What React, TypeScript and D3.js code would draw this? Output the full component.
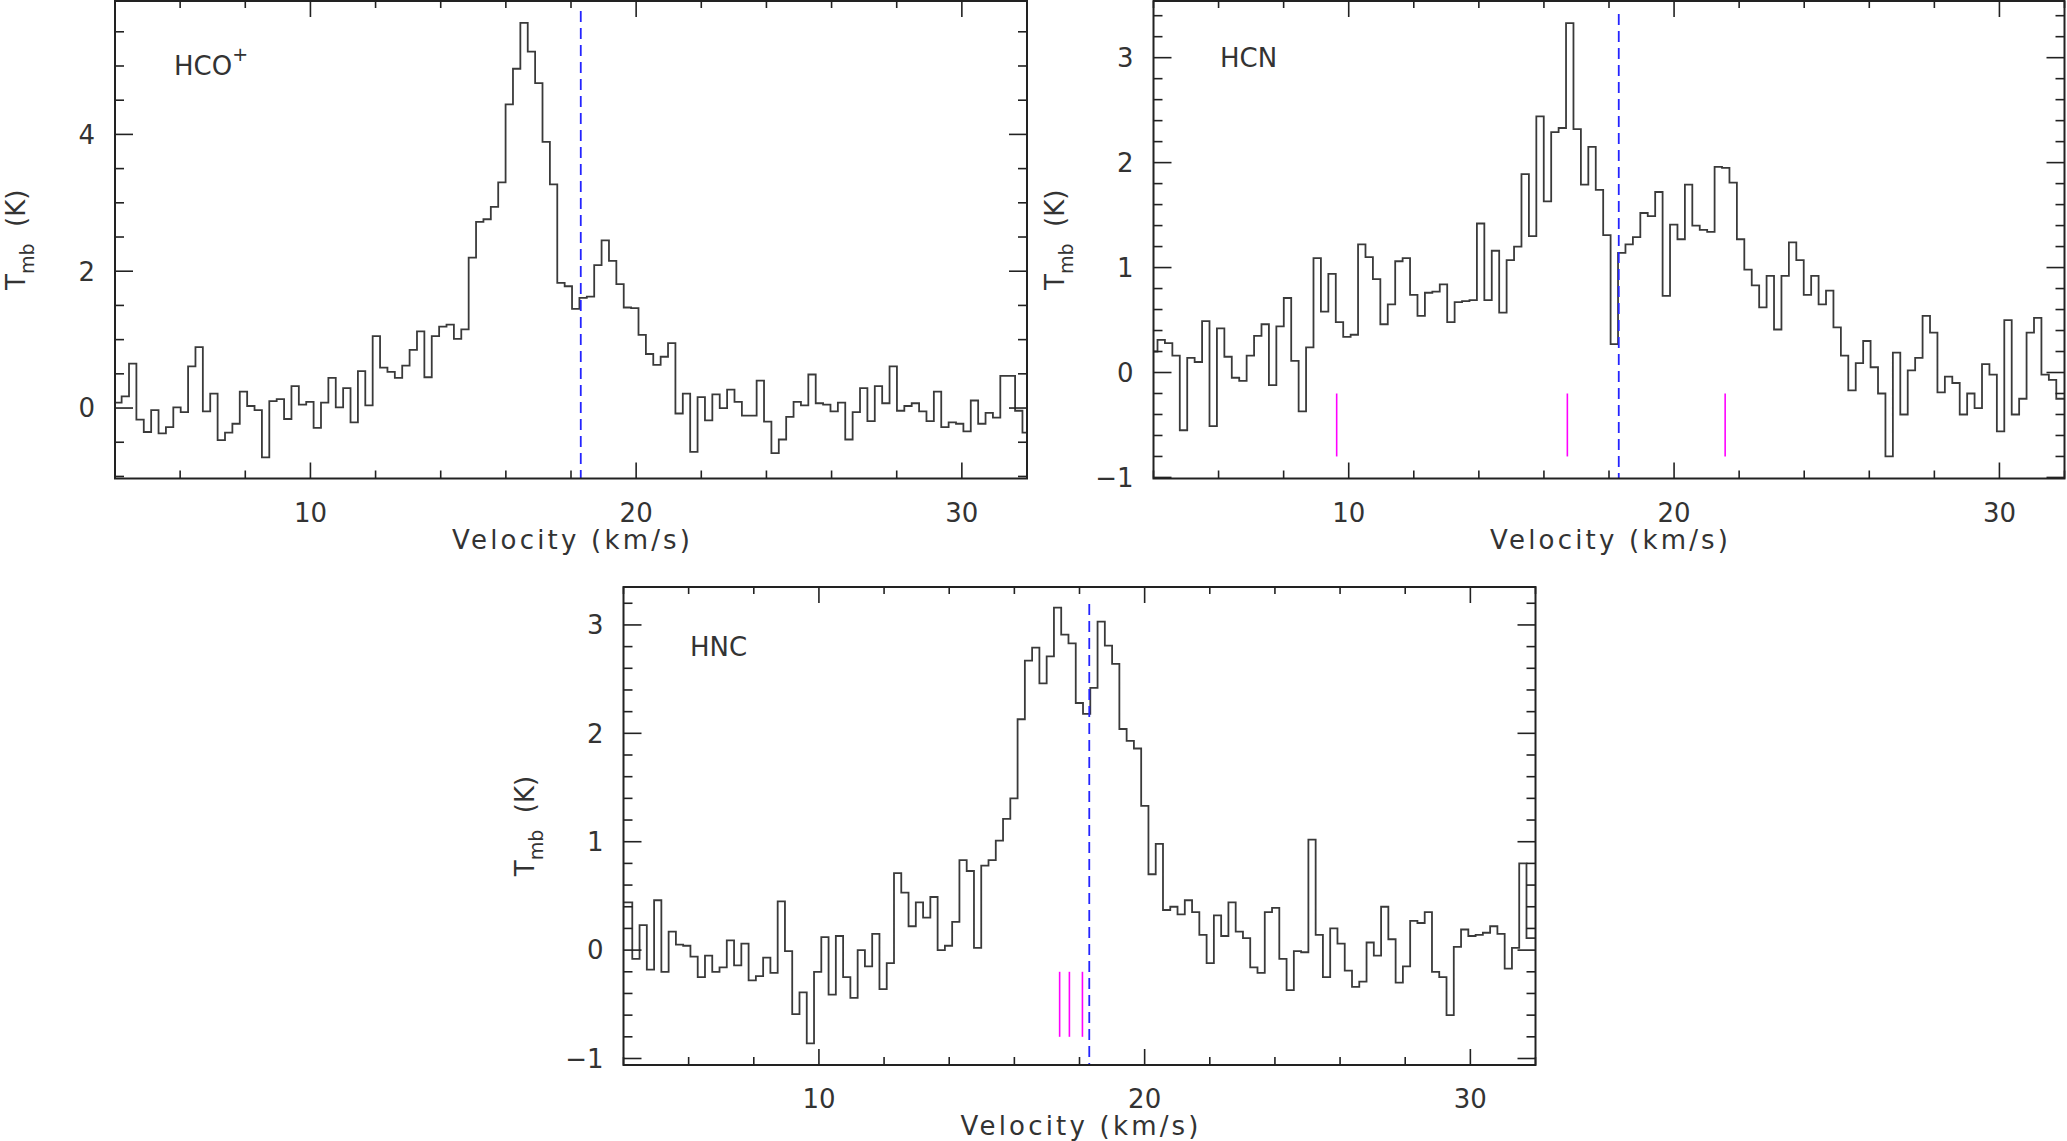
import React, { useEffect, useRef } from 'react';
import * as d3 from 'd3';

const W = 2067;
const H = 1141;

// velocity axis (km/s), same for the three spectra
const V_RANGE = [4, 32];
const V_LSR = 18.3;

// HCO+ main-beam temperature per channel (K)
const HCOP_TMB = [
  0.08, 0.17, 0.65, -0.17, -0.35, -0.03, -0.37, -0.28, 0.01, -0.06,
  0.61, 0.89, -0.05, 0.21, -0.47, -0.36, -0.23, 0.24, 0.03, -0.03,
  -0.72, 0.10, 0.13, -0.16, 0.32, 0.05, 0.09, -0.29, 0.08, 0.44,
  0.01, 0.29, -0.21, 0.54, 0.04, 1.05, 0.59, 0.53, 0.44, 0.62,
  0.85, 1.12, 0.45, 1.05, 1.19, 1.22, 1.01, 1.15, 2.20, 2.72,
  2.76, 2.94, 3.30, 4.44, 4.96, 5.63, 5.21, 4.75, 3.89, 3.27,
  1.83, 1.78, 1.45, 1.61, 1.63, 2.09, 2.45, 2.15, 1.81, 1.47,
  1.46, 1.07, 0.79, 0.63, 0.75, 0.95, -0.08, 0.21, -0.64, 0.16,
  -0.18, 0.20, 0.00, 0.27, 0.09, -0.11, -0.11, 0.40, -0.20, -0.66,
  -0.46, -0.13, 0.09, 0.04, 0.49, 0.07, 0.05, -0.05, 0.08, -0.46,
  -0.06, 0.29, -0.19, 0.32, 0.07, 0.61, -0.04, 0.03, 0.07, -0.05,
  -0.19, 0.24, -0.28, -0.21, -0.23, -0.34, 0.11, -0.23, -0.07, -0.14,
  0.47, 0.47, -0.04, -0.36
];
const HCOP_V0 = 4.09;   // centre of first channel
const HCOP_DV = 0.2267; // channel width

// HCN
const HCN_TMB = [
  0.20, 0.31, 0.28, 0.16, -0.55, 0.14, 0.10, 0.49, -0.51, 0.42,
  0.15, -0.05, -0.08, 0.16, 0.35, 0.46, -0.12, 0.44, 0.71, 0.11,
  -0.37, 0.24, 1.09, 0.58, 0.94, 0.48, 0.34, 0.36, 1.22, 1.10,
  0.89, 0.46, 0.65, 1.06, 1.09, 0.74, 0.54, 0.76, 0.77, 0.84,
  0.48, 0.67, 0.68, 0.69, 1.42, 0.69, 1.16, 0.57, 1.07, 1.20,
  1.89, 1.30, 2.44, 1.63, 2.29, 2.33, 3.33, 2.32, 1.79, 2.15,
  1.74, 1.31, 0.27, 1.14, 1.22, 1.29, 1.52, 1.49, 1.72, 0.73,
  1.41, 1.27, 1.79, 1.40, 1.36, 1.34, 1.96, 1.95, 1.81, 1.27,
  0.98, 0.83, 0.62, 0.92, 0.41, 0.92, 1.24, 1.07, 0.74, 0.92,
  0.65, 0.78, 0.43, 0.16, -0.17, 0.09, 0.30, 0.05, -0.20, -0.80,
  0.19, -0.40, 0.02, 0.14, 0.54, 0.38, -0.19, -0.04, -0.10, -0.40,
  -0.20, -0.34, 0.08, -0.02, -0.56, 0.50, -0.40, -0.25, 0.38, 0.52,
  -0.02, -0.07, -0.25
];
const HCN_V0 = 4.009;
const HCN_DV = 0.2283;
const HCN_HFS = [9.63, 16.72, 21.57];

// HNC
const HNC_TMB = [
  0.44, -0.08, 0.23, -0.18, 0.46, -0.20, 0.17, 0.05, 0.04, -0.06,
  -0.25, -0.05, -0.20, -0.16, 0.09, -0.14, 0.06, -0.28, -0.24, -0.07,
  -0.21, 0.45, -0.01, -0.59, -0.39, -0.86, -0.20, 0.12, -0.41, 0.13,
  -0.25, -0.44, 0.00, -0.15, 0.15, -0.36, -0.12, 0.71, 0.53, 0.22,
  0.44, 0.30, 0.49, 0.00, 0.04, 0.26, 0.83, 0.73, 0.02, 0.78,
  0.83, 1.01, 1.21, 1.40, 2.13, 2.67, 2.79, 2.46, 2.71, 3.16,
  2.91, 2.83, 2.28, 2.18, 2.42, 3.03, 2.81, 2.64, 2.04, 1.93,
  1.86, 1.33, 0.70, 0.98, 0.37, 0.40, 0.33, 0.46, 0.35, 0.14,
  -0.12, 0.32, 0.13, 0.44, 0.17, 0.11, -0.16, -0.21, 0.35, 0.39,
  -0.08, -0.37, -0.01, -0.02, 1.02, 0.14, -0.25, 0.20, 0.06, -0.19,
  -0.34, -0.29, 0.07, -0.05, 0.40, 0.10, -0.30, -0.15, 0.27, 0.25,
  0.35, -0.20, -0.25, -0.60, 0.03, 0.19, 0.13, 0.14, 0.16, 0.22,
  0.15, -0.17, 0.02, 0.80, 0.11
];
const HNC_V0 = 4.158;
const HNC_DV = 0.2232;
const HNC_HFS = [17.39, 17.69, 18.09];

const HFS_MARK = [-0.2, -0.8];

const PANELS = [
  { id: 'hcop', name: 'HCO', sup: '+', tmb: HCOP_TMB, v0: HCOP_V0, dv: HCOP_DV, hfs: [],
    yDomain: [-1.03, 5.95], yMajor: 2, yMinor: 0.5,
    left: 115, top: 1, right: 1027, bottom: 478.5, nameX: 174, nameY: 75, dashTop: 10 },
  { id: 'hcn', name: 'HCN', sup: '', tmb: HCN_TMB, v0: HCN_V0, dv: HCN_DV, hfs: HCN_HFS,
    yDomain: [-1.01, 3.54], yMajor: 1, yMinor: 0.2,
    left: 1153.5, top: 1, right: 2064.5, bottom: 478.5, nameX: 1220, nameY: 67, dashTop: 13 },
  { id: 'hnc', name: 'HNC', sup: '', tmb: HNC_TMB, v0: HNC_V0, dv: HNC_DV, hfs: HNC_HFS,
    yDomain: [-1.06, 3.35], yMajor: 1, yMinor: 0.2,
    left: 623.5, top: 587, right: 1535.5, bottom: 1065, nameX: 690, nameY: 656, dashTop: 17 }
];

const FONT = '"DejaVu Sans", sans-serif';
const TEXT = '#333';

function fmt(v) {
  const r = Math.round(v * 100) / 100;
  return (r < 0 ? '\u2212' : '') + Math.abs(r);
}

export default function App() {
  const svgRef = useRef(null);

  useEffect(() => {
    const svg = d3.select(svgRef.current);
    svg.selectAll('*').remove();

    PANELS.forEach(p => {
      const x = d3.scaleLinear().domain(V_RANGE).range([p.left, p.right]);
      const y = d3.scaleLinear().domain(p.yDomain).range([p.bottom, p.top]);
      const g = svg.append('g');

      const clipId = `clip-${p.id}`;
      svg.append('clipPath').attr('id', clipId)
        .append('rect')
        .attr('x', p.left).attr('y', p.top)
        .attr('width', p.right - p.left).attr('height', p.bottom - p.top);

      // histogram-style spectrum: one step per channel
      const n = p.tmb.length;
      const pts = p.tmb.map((t, i) => [p.v0 + (i - 0.5) * p.dv, t]);
      pts.push([p.v0 + (n - 0.5) * p.dv, p.tmb[n - 1]]);
      pts[0][0] = Math.min(pts[0][0], V_RANGE[0]);
      pts[n][0] = Math.max(pts[n][0], V_RANGE[1]);
      const line = d3.line().x(d => x(d[0])).y(d => y(d[1])).curve(d3.curveStepAfter);
      g.append('path')
        .attr('d', line(pts))
        .attr('fill', 'none')
        .attr('stroke', '#3a3a3a')
        .attr('stroke-width', 1.8)
        .attr('clip-path', `url(#${clipId})`);

      // systemic velocity
      g.append('line')
        .attr('x1', x(V_LSR)).attr('x2', x(V_LSR))
        .attr('y1', p.top + p.dashTop).attr('y2', p.bottom)
        .attr('stroke', '#2424ff')
        .attr('stroke-width', 1.8)
        .attr('stroke-dasharray', '11,6');

      // hyperfine components
      p.hfs.forEach(v => {
        g.append('line')
          .attr('x1', x(v)).attr('x2', x(v))
          .attr('y1', y(HFS_MARK[0])).attr('y2', y(HFS_MARK[1]))
          .attr('stroke', '#ff00ff')
          .attr('stroke-width', 1.6);
      });

      // frame
      g.append('rect')
        .attr('x', p.left).attr('y', p.top)
        .attr('width', p.right - p.left).attr('height', p.bottom - p.top)
        .attr('fill', 'none')
        .attr('stroke', '#222')
        .attr('stroke-width', 2);

      // x ticks (bottom + top)
      d3.range(V_RANGE[0], V_RANGE[1] + 0.001, 2).forEach(v => {
        const major = v % 10 === 0;
        const xx = x(v);
        g.append('line').attr('x1', xx).attr('x2', xx)
          .attr('y1', p.bottom).attr('y2', p.bottom - (major ? 16 : 8))
          .attr('stroke', '#222').attr('stroke-width', 1.6);
        g.append('line').attr('x1', xx).attr('x2', xx)
          .attr('y1', p.top).attr('y2', p.top + (major ? 16 : 7))
          .attr('stroke', '#222').attr('stroke-width', 1.6);
        if (major) {
          g.append('text')
            .attr('x', xx).attr('y', p.bottom + 43)
            .attr('text-anchor', 'middle')
            .style('font-family', FONT).style('font-size', '26px').style('fill', TEXT)
            .text(fmt(v));
        }
      });

      // y ticks (left + right)
      const kStart = Math.ceil(p.yDomain[0] / p.yMinor - 1e-6);
      const kEnd = Math.floor(p.yDomain[1] / p.yMinor + 1e-6);
      d3.range(kStart, kEnd + 1).forEach(k => {
        const v = k * p.yMinor;
        const r = v / p.yMajor;
        const major = Math.abs(r - Math.round(r)) < 1e-6;
        const yy = y(v);
        g.append('line').attr('x1', p.left).attr('x2', p.left + (major ? 18 : 9))
          .attr('y1', yy).attr('y2', yy)
          .attr('stroke', '#222').attr('stroke-width', 1.6);
        g.append('line').attr('x1', p.right).attr('x2', p.right - (major ? 18 : 9))
          .attr('y1', yy).attr('y2', yy)
          .attr('stroke', '#222').attr('stroke-width', 1.6);
        if (major) {
          g.append('text')
            .attr('x', p.left - 20).attr('y', yy)
            .attr('dy', '0.36em')
            .attr('text-anchor', 'end')
            .style('font-family', FONT).style('font-size', '26px').style('fill', TEXT)
            .text(fmt(v));
        }
      });

      // molecule name
      const name = g.append('text')
        .attr('x', p.nameX).attr('y', p.nameY)
        .style('font-family', FONT).style('font-size', '26px').style('fill', TEXT)
        .text(p.name);
      if (p.sup) {
        name.append('tspan').attr('dy', -14).style('font-size', '19px').text(p.sup);
      }

      // axis titles
      g.append('text')
        .attr('x', (p.left + p.right) / 2).attr('y', p.bottom + 70)
        .attr('text-anchor', 'middle')
        .attr('textLength', 238)
        .attr('lengthAdjust', 'spacing')
        .style('font-family', FONT).style('font-size', '26px').style('fill', TEXT)
        .text('Velocity (km/s)');

      const yl = g.append('text')
        .attr('transform', `translate(${p.left - 90},${(p.top + p.bottom) / 2}) rotate(-90)`)
        .attr('text-anchor', 'middle')
        .style('font-family', FONT).style('font-size', '26px').style('fill', TEXT)
        .style('white-space', 'pre');
      yl.append('tspan').text('T');
      yl.append('tspan').attr('dy', 9).style('font-size', '19px').text('mb');
      yl.append('tspan').attr('dy', -9).text('  (K)');
    });
  }, []);

  return (
    <svg
      ref={svgRef}
      width={W}
      height={H}
      style={{ position: 'absolute', left: 0, top: 0, background: '#fff' }}
    />
  );
}
